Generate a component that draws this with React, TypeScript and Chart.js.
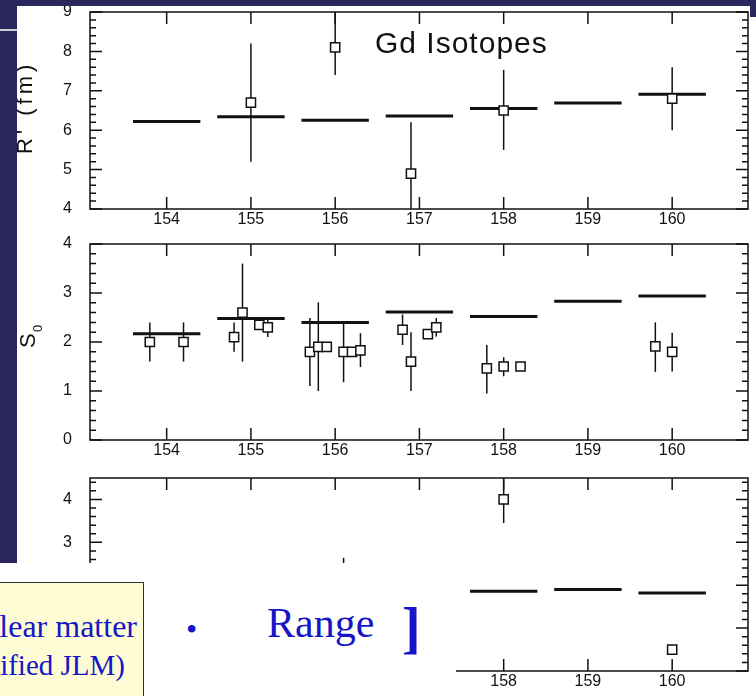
import React, { useEffect, useRef } from "react";
import { Chart, registerables } from "chart.js";

Chart.register(...registerables);

// ---------------- data ----------------
const ISOTOPES = [154, 155, 156, 157, 158, 159, 160];
const X_TICK_LABELS = ["154", "155", "156", "157", "158", "159", "160"];
const X_MIN = 153.09;
const X_MAX = 160.9;
const HALF_WIDTH = 0.4;

// Panel 1: R' (fm)
const R_Y_TICKS = [4, 5, 6, 7, 8, 9];
const R_THEORY = [6.22, 6.34, 6.25, 6.36, 6.55, 6.69, 6.91];
const R_EXP_X = [155.0, 156.0, 156.9, 158.0, 160.0];
const R_EXP_Y = [6.7, 8.1, 4.9, 6.5, 6.8];
const R_EXP_LO = [5.2, 7.4, 3.6, 5.5, 6.0];
const R_EXP_HI = [8.2, 9.3, 6.2, 7.53, 7.6];

// Panel 2: S0
const S_Y_TICKS = [0, 1, 2, 3, 4];
const S_THEORY = [2.17, 2.48, 2.4, 2.61, 2.52, 2.83, 2.94];
const S_EXP_X = [153.8, 154.2, 154.8, 154.9, 155.1, 155.2, 155.7, 155.8, 155.9, 156.1, 156.2, 156.3, 156.8, 156.9, 157.1, 157.2, 157.8, 158.0, 158.2, 159.8, 160.0];
const S_EXP_Y = [2.0, 2.0, 2.1, 2.6, 2.35, 2.3, 1.8, 1.9, 1.9, 1.8, 1.8, 1.83, 2.25, 1.6, 2.16, 2.3, 1.46, 1.5, 1.5, 1.91, 1.8];
const S_EXP_LO = [1.6, 1.6, 1.8, 1.6, 2.35, 2.1, 1.1, 1.0, 1.9, 1.18, 1.8, 1.49, 1.94, 1.0, 2.16, 2.11, 0.95, 1.3, 1.5, 1.39, 1.4];
const S_EXP_HI = [2.4, 2.4, 2.4, 3.6, 2.35, 2.47, 2.49, 2.81, 1.9, 2.37, 1.8, 2.18, 2.56, 2.2, 2.16, 2.49, 1.94, 1.69, 1.5, 2.4, 2.19];

// Panel 3 (mostly hidden)
const W_Y_TICKS = [0, 1, 2, 3, 4];
const W_THEORY_X = [158, 159, 160];
const W_THEORY = [1.86, 1.9, 1.82];
const W_EXP_X = [156.1, 158.0, 160.0];
const W_EXP_Y = [1.9, 4.0, 0.5];
const W_EXP_LO = [1.2, 3.45, 0.5];
const W_EXP_HI = [2.64, 4.47, 0.5];

// ---------------- styles ----------------
const INK = "#111111";
const NAVY = "#29275b";
const BLUE = "#1616c8";
const SANS = "'Liberation Sans', Arial, Helvetica, sans-serif";
const SERIF = "'Liberation Serif', 'Times New Roman', serif";
const CANVAS_LEFT = 17;
const CANVAS_W = 756 - CANVAS_LEFT;

interface PanelCfg {
  top: number;
  height: number;
  padTop: number;
  axisH: number;
  yMin: number;
  yMax: number;
  yTicks: number[];
  theoryX: number[];
  theoryY: number[];
  expX: number[];
  expY: number[];
  expLo: number[];
  expHi: number[];
  decorate?: (ctx: CanvasRenderingContext2D) => void;
}

function buildChart(canvas: HTMLCanvasElement, cfg: PanelCfg) {
  const theory: any[] = [];
  cfg.theoryX.forEach((x, i) => {
    theory.push({ x: x - HALF_WIDTH, y: cfg.theoryY[i] });
    theory.push({ x: x + HALF_WIDTH, y: cfg.theoryY[i] });
    theory.push({ x: x + 0.5, y: null });
  });
  const pts = cfg.expX.map((x, i) => ({ x, y: cfg.expY[i] }));

  const framePlugin = {
    id: "frame",
    beforeDatasetsDraw(chart: any) {
      const { ctx, chartArea: a } = chart;
      const xs = chart.scales.x;
      const ys = chart.scales.y;
      ctx.save();
      ctx.beginPath();
      ctx.rect(a.left, a.top, a.right - a.left, a.bottom - a.top);
      ctx.clip();
      ctx.strokeStyle = INK;
      ctx.lineWidth = 1.5;
      cfg.expX.forEach((xv, i) => {
        if (cfg.expHi[i] - cfg.expLo[i] < 1e-6) return;
        const px = xs.getPixelForValue(xv);
        ctx.beginPath();
        ctx.moveTo(px, ys.getPixelForValue(cfg.expHi[i]));
        ctx.lineTo(px, ys.getPixelForValue(cfg.expLo[i]));
        ctx.stroke();
      });
      ctx.restore();
    },
    afterDraw(chart: any) {
      const { ctx, chartArea: a } = chart;
      const xs = chart.scales.x;
      const ys = chart.scales.y;
      ctx.save();
      ctx.strokeStyle = INK;
      ctx.lineWidth = 1.5;
      ctx.strokeRect(a.left, a.top, a.right - a.left, a.bottom - a.top);
      ctx.beginPath();
      ISOTOPES.forEach((v) => {
        const px = xs.getPixelForValue(v);
        ctx.moveTo(px, a.bottom);
        ctx.lineTo(px, a.bottom - 12);
        ctx.moveTo(px, a.top);
        ctx.lineTo(px, a.top + 12);
      });
      const step = 0.2;
      const n0 = Math.ceil(cfg.yMin / step - 1e-6);
      const n1 = Math.floor(cfg.yMax / step + 1e-6);
      for (let n = n0; n <= n1; n++) {
        const v = n * step;
        const major = Math.abs(v - Math.round(v)) < 1e-6;
        const len = major ? 12 : 6;
        const py = ys.getPixelForValue(v);
        ctx.moveTo(a.left, py);
        ctx.lineTo(a.left + len, py);
        ctx.moveTo(a.right, py);
        ctx.lineTo(a.right - len, py);
      }
      ctx.stroke();
      ctx.restore();
      if (cfg.decorate) {
        ctx.save();
        cfg.decorate(ctx);
        ctx.restore();
      }
    },
  };

  return new Chart(canvas, {
    type: "scatter",
    data: {
      datasets: [
        {
          type: "line",
          data: theory,
          borderColor: INK,
          borderWidth: 3,
          pointRadius: 0,
          spanGaps: false,
          fill: false,
          order: 2,
        } as any,
        {
          type: "scatter",
          data: pts,
          pointStyle: "rect",
          pointRadius: 6.5,
          pointBackgroundColor: "#ffffff",
          pointBorderColor: INK,
          pointBorderWidth: 1.5,
          order: 1,
        } as any,
      ],
    },
    options: {
      animation: false,
      responsive: false,
      devicePixelRatio: 1,
      events: [],
      layout: { padding: { top: cfg.padTop, right: 4, left: 0, bottom: 0 } },
      plugins: { legend: { display: false }, tooltip: { enabled: false } },
      scales: {
        x: {
          type: "linear",
          min: X_MIN,
          max: X_MAX,
          grid: { display: false, drawTicks: false },
          border: { display: false },
          afterBuildTicks: (s: any) => {
            s.ticks = ISOTOPES.map((v) => ({ value: v }));
          },
          afterFit: (s: any) => {
            s.height = cfg.axisH;
            s.paddingLeft = 0;
            s.paddingRight = 0;
          },
          ticks: {
            autoSkip: false,
            maxRotation: 0,
            padding: 1,
            color: INK,
            font: { family: SANS, size: 16 },
            callback: (v: any) => {
              const i = ISOTOPES.indexOf(Number(v));
              return i >= 0 ? X_TICK_LABELS[i] : "";
            },
          },
        },
        y: {
          type: "linear",
          min: cfg.yMin,
          max: cfg.yMax,
          grid: { display: false, drawTicks: false },
          border: { display: false },
          afterBuildTicks: (s: any) => {
            s.ticks = cfg.yTicks.map((v) => ({ value: v }));
          },
          afterFit: (s: any) => {
            s.width = 73;
            s.paddingTop = 0;
            s.paddingBottom = 0;
          },
          ticks: {
            padding: 18,
            color: INK,
            font: { family: SANS, size: 16 },
            callback: (v: any) => String(v),
          },
        },
      },
    } as any,
    plugins: [framePlugin as any],
  });
}

const PANELS: PanelCfg[] = [
  {
    top: 0,
    height: 236,
    padTop: 12,
    axisH: 27,
    yMin: 4,
    yMax: 9,
    yTicks: R_Y_TICKS,
    theoryX: ISOTOPES,
    theoryY: R_THEORY,
    expX: R_EXP_X,
    expY: R_EXP_Y,
    expLo: R_EXP_LO,
    expHi: R_EXP_HI,
    decorate: (ctx) => {
      ctx.fillStyle = INK;
      ctx.font = `30px ${SANS}`;
      (ctx as any).letterSpacing = "1px";
      ctx.textBaseline = "alphabetic";
      ctx.textAlign = "left";
      ctx.fillText("Gd Isotopes", 375 - CANVAS_LEFT, 53);
      (ctx as any).letterSpacing = "4px";
      ctx.font = `22px ${SANS}`;
      ctx.translate(32 - CANVAS_LEFT, 154);
      ctx.rotate(-Math.PI / 2);
      ctx.fillText("R' (fm)", 0, 0);
    },
  },
  {
    top: 236,
    height: 234,
    padTop: 7,
    axisH: 30,
    yMin: 0,
    yMax: 4,
    yTicks: S_Y_TICKS,
    theoryX: ISOTOPES,
    theoryY: S_THEORY,
    expX: S_EXP_X,
    expY: S_EXP_Y,
    expLo: S_EXP_LO,
    expHi: S_EXP_HI,
    decorate: (ctx) => {
      ctx.fillStyle = INK;
      ctx.textBaseline = "alphabetic";
      ctx.textAlign = "left";
      ctx.translate(35 - CANVAS_LEFT, 348 - 236);
      ctx.rotate(-Math.PI / 2);
      ctx.font = `22px ${SANS}`;
      ctx.fillText("S", 0, 0);
      ctx.font = `13px ${SANS}`;
      ctx.fillText("0", 16, 7);
    },
  },
  {
    top: 470,
    height: 226,
    padTop: 4,
    axisH: 25,
    yMin: 0,
    yMax: 4.5,
    yTicks: W_Y_TICKS,
    theoryX: W_THEORY_X,
    theoryY: W_THEORY,
    expX: W_EXP_X,
    expY: W_EXP_Y,
    expLo: W_EXP_LO,
    expHi: W_EXP_HI,
  },
];

function Panel({ cfg }: { cfg: PanelCfg }) {
  const ref = useRef<HTMLCanvasElement | null>(null);
  useEffect(() => {
    if (!ref.current) return;
    const chart = buildChart(ref.current, cfg);
    return () => chart.destroy();
  }, [cfg]);
  return (
    <canvas
      ref={ref}
      width={CANVAS_W}
      height={cfg.height}
      style={{ position: "absolute", left: CANVAS_LEFT, top: cfg.top, width: CANVAS_W, height: cfg.height }}
    />
  );
}

export default function App() {
  const abs = (s: React.CSSProperties): React.CSSProperties => ({ position: "absolute", ...s });
  return (
    <div style={abs({ left: 0, top: 0, width: 756, height: 696, background: "#ffffff", overflow: "hidden" })}>
      {PANELS.map((p, i) => (
        <Panel key={i} cfg={p} />
      ))}
      {/* slide frame */}
      <div style={abs({ left: 0, top: 0, width: 756, height: 6, background: NAVY })} />
      <div style={abs({ left: 750, top: 0, width: 6, height: 17, background: NAVY })} />
      <div style={abs({ left: 0, top: 0, width: 17, height: 563, background: NAVY })} />
      <div style={abs({ left: 0, top: 29, width: 17, height: 2, background: "#c9c9d8" })} />
      {/* slide overlay covering lower-left */}
      <div style={abs({ left: 0, top: 563, width: 456, height: 133, background: "#ffffff" })} />
      <div
        style={abs({
          left: -200,
          top: 582,
          width: 342,
          height: 140,
          background: "#fdfcd4",
          border: "1px solid #333333",
          overflow: "hidden",
        })}
      >
        <div style={abs({ right: 6, top: 28, fontFamily: SERIF, fontSize: 32, lineHeight: "30px", color: BLUE, whiteSpace: "nowrap" })}>
          Nuclear matter
        </div>
        <div style={abs({ right: 18, top: 67, fontFamily: SERIF, fontSize: 29, lineHeight: "30px", color: BLUE, whiteSpace: "nowrap" })}>
          (modified JLM)
        </div>
      </div>
      <div style={abs({ left: 186, top: 614, fontFamily: SERIF, fontSize: 32, lineHeight: "30px", color: BLUE })}>•</div>
      <div style={abs({ left: 267, top: 603, fontFamily: SERIF, fontSize: 42, lineHeight: "40px", color: BLUE })}>Range</div>
      <div style={abs({ left: 402, top: 600, fontFamily: SERIF, fontSize: 56, lineHeight: "56px", color: BLUE, fontWeight: 700 })}>]</div>
    </div>
  );
}
